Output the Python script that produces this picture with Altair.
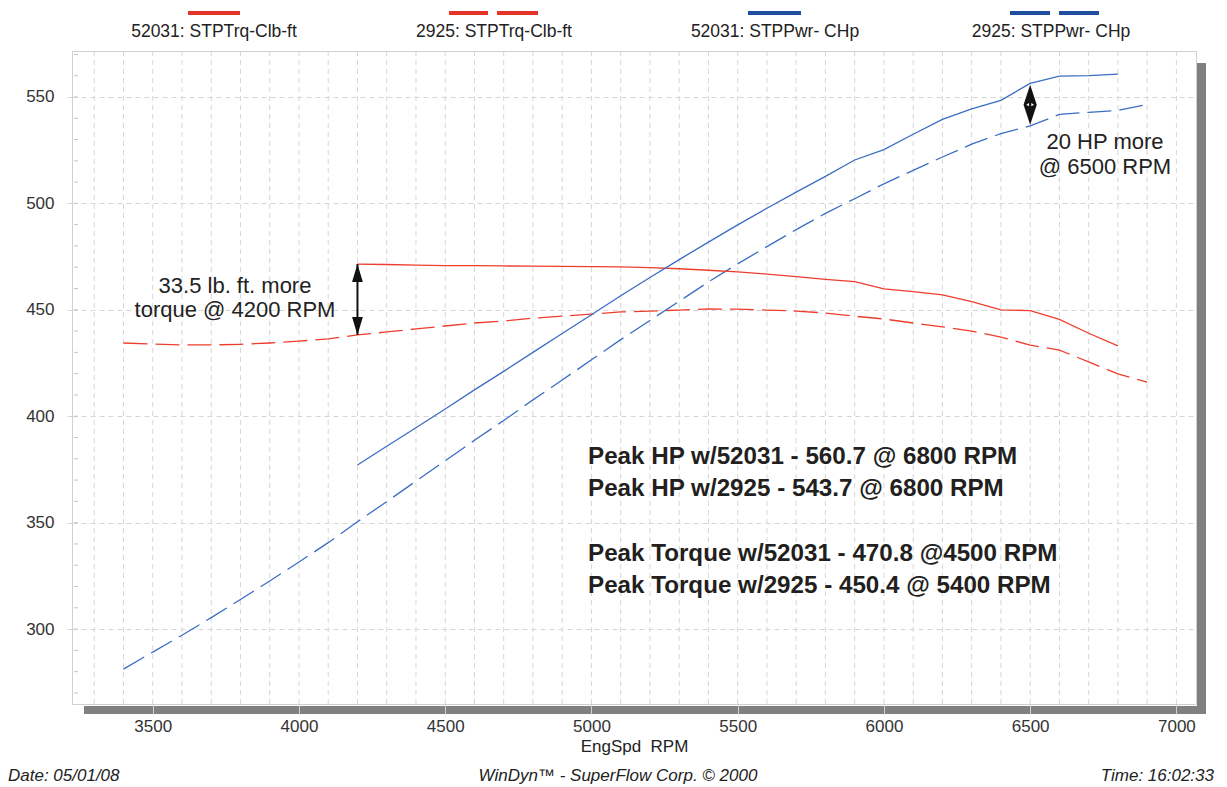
import altair as alt
import pandas as pd

# ---------------- data (read from the dyno sheet) ----------------
rpm_52031 = [4200, 4300, 4400, 4500, 4600, 4700, 4800, 4900, 5000, 5100, 5200, 5300, 5400,
             5500, 5600, 5700, 5800, 5900, 6000, 6100, 6200, 6300, 6400, 6500, 6600, 6700, 6800]
tq_52031 = [471.5, 471.3, 471.0, 470.8, 470.8, 470.6, 470.5, 470.4, 470.3, 470.2, 469.8, 469.3, 468.6,
            467.8, 466.8, 465.6, 464.3, 463.2, 459.8, 458.5, 457.0, 453.8, 450.0, 449.6, 445.5, 439.0, 433.1]
hp_52031 = [377.1, 385.9, 394.6, 403.4, 412.4, 421.1, 430.0, 438.9, 447.7, 456.6, 465.2, 473.6, 481.8,
            489.9, 497.7, 505.3, 512.7, 520.4, 525.3, 532.5, 539.5, 544.4, 548.4, 556.4, 559.8, 560.0, 560.7]

rpm_2925 = [3400, 3500, 3600, 3700, 3800, 3900, 4000, 4100, 4200, 4300, 4400, 4500, 4600, 4700,
            4800, 4900, 5000, 5100, 5200, 5300, 5400, 5500, 5600, 5700, 5800, 5900, 6000, 6100,
            6200, 6300, 6400, 6500, 6600, 6700, 6800, 6900]
tq_2925 = [434.4, 433.9, 433.5, 433.5, 433.8, 434.4, 435.3, 436.3, 438.2, 439.6, 441.0, 442.4, 443.8, 444.7,
           446.1, 447.0, 448.0, 449.0, 449.4, 449.9, 450.4, 450.3, 449.9, 449.4, 448.5, 447.0, 445.7, 443.8,
           442.0, 440.0, 437.2, 433.4, 431.1, 425.5, 419.9, 416.0]
hp_2925 = [281.2, 289.2, 297.1, 305.4, 313.9, 322.6, 331.5, 340.6, 350.4, 359.9, 369.5, 379.1, 388.7, 398.0,
           407.7, 417.0, 426.5, 436.0, 445.0, 454.0, 463.1, 471.6, 479.7, 487.7, 495.3, 502.2, 509.2, 515.5,
           521.8, 527.8, 532.8, 536.4, 541.8, 542.8, 543.7, 546.5]

x_ticks = [3500, 4000, 4500, 5000, 5500, 6000, 6500, 7000]
x_grid = list(range(3300, 7001, 100))
y_ticks = [300, 350, 400, 450, 500, 550]
y_minor = list(range(270, 571, 10))

legend_labels = ["52031: STPTrq-Clb-ft", "2925: STPTrq-Clb-ft", "52031: STPPwr- CHp", "2925: STPPwr- CHp"]
peak_lines = ["Peak HP w/52031 - 560.7 @ 6800 RPM",
              "Peak HP w/2925 - 543.7 @ 6800 RPM",
              "Peak Torque w/52031 - 470.8 @4500 RPM",
              "Peak Torque w/2925 - 450.4 @ 5400 RPM"]

RED = "#ee3d2d"
BLUE = "#3b6dc3"
LEG_RED = "#e5352a"
LEG_BLUE = "#1f4f9e"
TXT = "#222222"
FONT = "Liberation Sans"

W, H = 1124, 653
X_DOM = [3224, 7067]
Y_DOM = [264.8, 571.6]

xs = alt.Scale(domain=X_DOM, nice=False, zero=False)
ys = alt.Scale(domain=Y_DOM, nice=False, zero=False)

x_axis = alt.Axis(values=x_ticks, format="d", grid=False, domain=False, tickColor="#d0d0d0", tickSize=10,
                  labelFontSize=17, labelColor="#333", labelPadding=4, title="EngSpd\u00a0 RPM",
                  titleFontSize=17, titleFontWeight="normal", titleColor="#222", titlePadding=4,
                  zindex=1)
y_axis = alt.Axis(values=y_ticks, format="d", grid=True, gridDash=[5, 4], gridColor="#d6d6d6", domain=False,
                  tickColor="#d6d6d6", tickDash=[5, 4], tickSize=9, labelFontSize=17,
                  labelColor="#333", labelPadding=9, title=None)


def X(field):
    return alt.X(field, type="quantitative", scale=xs, axis=x_axis)


def Y(field):
    return alt.Y(field, type="quantitative", scale=ys, axis=y_axis)


df52 = pd.DataFrame({"rpm": rpm_52031, "tq": tq_52031, "hp": hp_52031})
df29 = pd.DataFrame({"rpm": rpm_2925, "tq": tq_2925, "hp": hp_2925})

grid_v = alt.Chart(pd.DataFrame({"g": x_grid})).mark_rule(
    color="#d6d6d6", strokeDash=[5, 4], strokeWidth=1).encode(x=X("g"))

minor = alt.Chart(pd.DataFrame({"m": y_minor})).mark_rule(color="#c4c4c4", strokeWidth=1).encode(
    y=Y("m"), x=alt.value(2), x2=alt.value(6))

shadow_r = alt.Chart(pd.DataFrame({"a": [0]})).mark_rect(color="#808080").encode(
    x=alt.value(W + 1), x2=alt.value(W + 10), y=alt.value(12), y2=alt.value(H + 10))
shadow_b = alt.Chart(pd.DataFrame({"a": [0]})).mark_rect(color="#808080").encode(
    x=alt.value(12), x2=alt.value(W + 10), y=alt.value(H + 2), y2=alt.value(H + 10))

tq52 = alt.Chart(df52).mark_line(color=RED, strokeWidth=1.3).encode(x=X("rpm"), y=Y("tq"))
tq29 = alt.Chart(df29).mark_line(color=RED, strokeWidth=1.3, strokeDash=[24, 8]).encode(x=X("rpm"), y=Y("tq"))
hp52 = alt.Chart(df52).mark_line(color=BLUE, strokeWidth=1.3).encode(x=X("rpm"), y=Y("hp"))
hp29 = alt.Chart(df29).mark_line(color=BLUE, strokeWidth=1.3, strokeDash=[24, 8]).encode(x=X("rpm"), y=Y("hp"))

# torque-gap arrow at 4200 rpm
tq_arrow = pd.DataFrame({"rpm": [4200], "lo": [tq_2925[8]], "hi": [tq_52031[0]]})
shaft = alt.Chart(tq_arrow).mark_rule(color="#111", strokeWidth=2).encode(
    x=X("rpm"), y=Y("lo"), y2="hi:Q")
head_up = alt.Chart(tq_arrow).mark_point(
    shape="M0,0L-0.3,1L0.3,1Z", size=1296, filled=True, color="#111", opacity=1).encode(
    x=X("rpm"), y=Y("hi"))
head_dn = alt.Chart(tq_arrow).mark_point(
    shape="M0,0L-0.3,-1L0.3,-1Z", size=1296, filled=True, color="#111", opacity=1).encode(
    x=X("rpm"), y=Y("lo"))

# hp-gap arrow at 6500 rpm
hp_arrow = pd.DataFrame({"rpm": [6500], "mid": [(hp_52031[23] + hp_2925[31]) / 2]})
diamond = alt.Chart(hp_arrow).mark_point(
    shape="M0,-1L0.33,0L0,1L-0.33,0Z", size=1600, filled=True, color="#111", opacity=1).encode(
    x=X("rpm"), y=Y("mid"))
tri_l = alt.Chart(hp_arrow).mark_point(shape="triangle-left", size=10, filled=True, color="white",
                                       opacity=1, xOffset=-2.5).encode(x=X("rpm"), y=Y("mid"))
tri_r = alt.Chart(hp_arrow).mark_point(shape="triangle-right", size=10, filled=True, color="white",
                                       opacity=1, xOffset=2.5).encode(x=X("rpm"), y=Y("mid"))


def label(txt, x, y, size=17, align="center", weight="normal", style="normal", font=FONT, color=TXT):
    return alt.Chart(pd.DataFrame({"t": [txt]})).mark_text(
        align=align, baseline="middle", fontSize=size, fontWeight=weight, fontStyle=style,
        font=font, color=color).encode(x=alt.value(x), y=alt.value(y), text="t:N")


def bar(x1, x2, color):
    return alt.Chart(pd.DataFrame({"a": [0]})).mark_rule(color=color, strokeWidth=4).encode(
        x=alt.value(x1), x2=alt.value(x2), y=alt.value(-38), y2=alt.value(-38))


legend = [
    bar(116, 168, LEG_RED), label(legend_labels[0], 142, -19, size=17.5),
    bar(377, 416, LEG_RED), bar(425, 466, LEG_RED), label(legend_labels[1], 422, -19, size=17.5),
    bar(676, 729, LEG_BLUE), label(legend_labels[2], 703, -19, size=17.5),
    bar(938, 978, LEG_BLUE), bar(987, 1027, LEG_BLUE), label(legend_labels[3], 979, -19, size=17.5),
]

annots = [
    label("33.5 lb. ft. more", 163, 235, size=22),
    label("torque @ 4200 RPM", 163, 259, size=22),
    label("20 HP more", 1033, 91, size=22),
    label("@ 6500 RPM", 1033, 116, size=22),
]

peaks = [label(t, 516, yy, size=24.2, align="left", weight="bold", font=FONT, color="#231f20")
         for t, yy in zip(peak_lines, [406, 438, 503, 535])]

footer = [
    label("Date: 05/01/08", -64, 725, align="left", style="italic"),
    label("WinDyn\u2122 - SuperFlow Corp. \u00a9 2000", 546, 725, style="italic"),
    label("Time: 16:02:33", 1142, 725, align="right", style="italic"),
]

chart = alt.layer(
    grid_v, minor, shadow_r, shadow_b, tq29, hp29, tq52, hp52,
    shaft, head_up, head_dn, diamond, tri_l, tri_r,
    *legend, *annots, *peaks, *footer
).properties(
    width=W, height=H, autosize="none",
    padding={"left": 64, "top": 43, "right": 20, "bottom": 80},
).configure(font=FONT).configure_view(stroke="#d0d0d0", strokeWidth=1)

chart.save("out.html", embed_options={"renderer": "svg", "actions": False})
